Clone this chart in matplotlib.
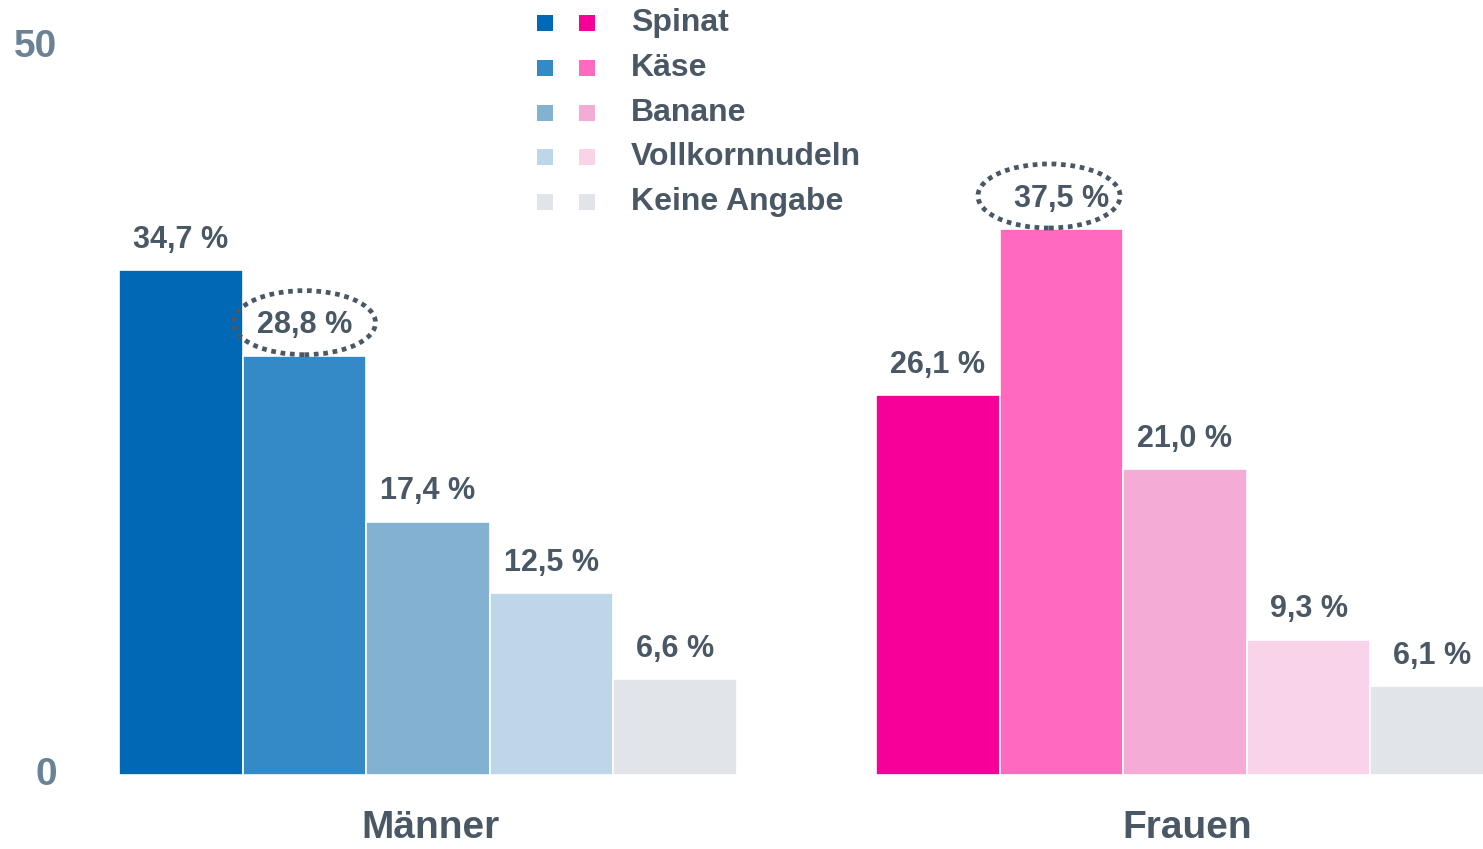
import numpy as np
import matplotlib
matplotlib.use("Agg")
import matplotlib.pyplot as plt
from matplotlib.patches import Ellipse, Rectangle

## data
groups = ["Männer", "Frauen"]
foods = ["Spinat", "Käse", "Banane", "Vollkornnudeln", "Keine Angabe"]
maenner = [34.7, 28.8, 17.4, 12.5, 6.6]
frauen = [26.1, 37.5, 21.0, 9.3, 6.1]
highlight = {"Männer": 1, "Frauen": 1}   # index of the circled value per group

## colours
blues = ["#0068b4", "#348ac7", "#82b1d2", "#bdd6e8", "#e1e5ea"]
pinks = ["#f7009a", "#ff69c0", "#f4acd6", "#f9d3e9", "#e1e5ea"]
text_col = "#4a5866"
tick_col = "#6a8296"

plt.rcParams['font.family'] = ['Liberation Sans', 'DejaVu Sans']
plt.rcParams['font.weight'] = 'bold'

fig = plt.figure(figsize=(14.83, 8.49), dpi=100)
ax = fig.add_axes([0, 0, 1, 1])

## scale: one bar = 1 x unit (~123.6 px), 14.56 px per percent
ax.set_xlim(-1.463, 10.535)
ax.set_ylim(-5.08, 53.23)
ax.axis("off")

offsets = [0, 6.124]
series = [maenner, frauen]
palettes = [blues, pinks]

for g, (off, vals, cols) in enumerate(zip(offsets, series, palettes)):
    x = off + np.arange(len(vals))
    ax.bar(x, vals, width=1.0, color=cols, edgecolor="white", linewidth=1.2, zorder=2)
    for i, (xi, v) in enumerate(zip(x, vals)):
        lab = f"{v:.1f} %".replace(".", ",")
        ax.annotate(lab, (xi, v), xytext=(0, 16), textcoords="offset points",
                    ha="center", va="baseline", fontsize=22, color=text_col,
                    fontweight="bold", zorder=4)
        if i == highlight[groups[g]]:
            dx = 0 if g == 0 else -0.1
            ax.add_patch(Ellipse((xi + dx, v + 2.27), 1.15, 4.4, fill=False,
                                 edgecolor=text_col, linewidth=3.4,
                                 linestyle=(0, (1.0, 1.0)), zorder=3))
    ax.text(off + 2.02, -3.65, groups[g], ha="center", va="center",
            fontsize=28, color=text_col, fontweight="bold")

## y tick labels
for v in [0, 50]:
    ax.text(57 / 1483, v, str(v), transform=ax.get_yaxis_transform(),
            ha="right", va="center", fontsize=28, color=tick_col, fontweight="bold")

## legend (two squares per entry)
W, H = 1483, 849
for k, name in enumerate(foods):
    yc = 23 + k * 44.8
    for xc, c in [(545, blues[k]), (587, pinks[k])]:
        fig.patches.append(Rectangle(((xc - 8) / W, (H - yc - 8) / H), 16 / W, 16 / H,
                                     facecolor=c, edgecolor="none",
                                     transform=fig.transFigure, figure=fig))
    fig.text(631 / W, (H - yc) / H, name, ha="left", va="center",
             fontsize=23, color=text_col, fontweight="bold")

fig.savefig("out.png", dpi=100)
